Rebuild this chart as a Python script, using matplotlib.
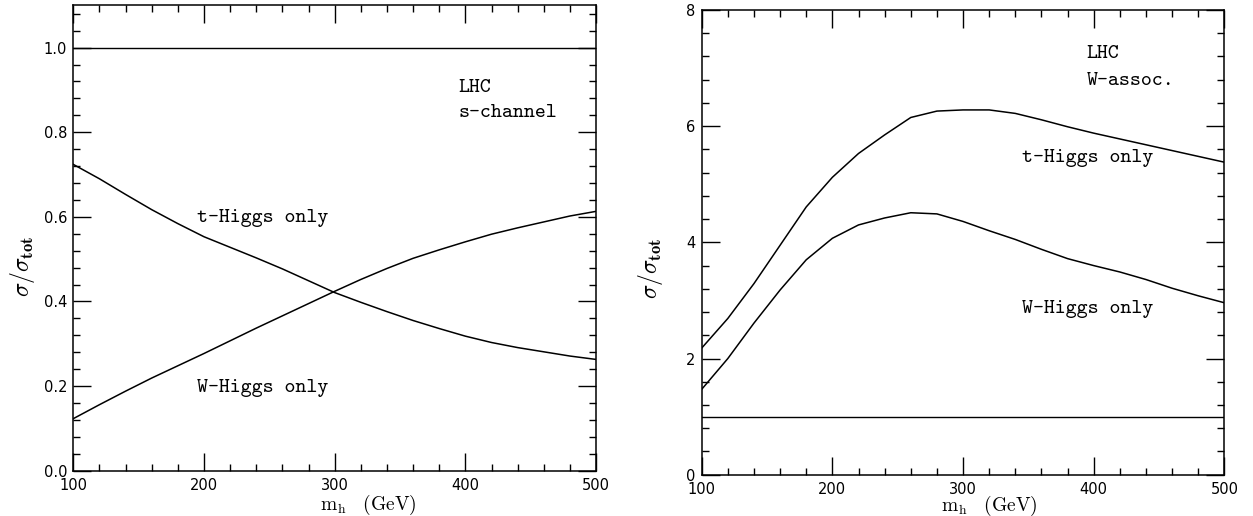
import os
import matplotlib
matplotlib.use("Agg")
import matplotlib.pyplot as plt
from matplotlib.font_manager import FontProperties
from matplotlib.ticker import MultipleLocator, FormatStrFormatter

# ---- data ----
mh = [100, 120, 140, 160, 180, 200, 220, 240, 260, 280, 300,
      320, 340, 360, 380, 400, 420, 440, 460, 480, 500]

# s-channel (left panel)
s_t_higgs = [0.724, 0.690, 0.653, 0.617, 0.584, 0.553, 0.528, 0.503, 0.477, 0.449, 0.421,
             0.398, 0.376, 0.355, 0.336, 0.318, 0.303, 0.291, 0.281, 0.271, 0.263]
s_w_higgs = [0.123, 0.156, 0.188, 0.219, 0.248, 0.277, 0.307, 0.337, 0.366, 0.395, 0.424,
             0.452, 0.478, 0.502, 0.522, 0.541, 0.559, 0.574, 0.588, 0.602, 0.613]

# W-associated (right panel)
w_t_higgs = [2.18, 2.69, 3.29, 3.95, 4.61, 5.12, 5.53, 5.85, 6.15, 6.26, 6.28,
             6.28, 6.22, 6.11, 5.99, 5.88, 5.78, 5.68, 5.58, 5.48, 5.38]
w_w_higgs = [1.47, 2.00, 2.61, 3.18, 3.70, 4.07, 4.30, 4.42, 4.51, 4.49, 4.36,
             4.20, 4.05, 3.88, 3.72, 3.60, 3.49, 3.36, 3.21, 3.08, 2.96]

ref_level = 1.0

# ---- fonts ----
plt.rcParams["mathtext.fontset"] = "cm"
tt_path = os.path.join(matplotlib.get_data_path(), "fonts", "ttf", "cmtt10.ttf")
if os.path.exists(tt_path):
    tt_font = FontProperties(fname=tt_path, size=15)
else:
    tt_font = FontProperties(family="DejaVu Sans Mono", size=13)

fig = plt.figure(figsize=(12.53, 5.16), dpi=100)
ax1 = fig.add_axes([0.0585, 0.0878, 0.4172, 0.9019])
ax2 = fig.add_axes([0.5600, 0.0800, 0.4172, 0.9006])


def style_axes(ax, xpad, ypad):
    ax.set_xlim(100, 500)
    ax.xaxis.set_major_locator(MultipleLocator(100))
    ax.xaxis.set_minor_locator(MultipleLocator(20))
    ax.tick_params(which="both", direction="in", top=True, right=True,
                   width=1.0, color="black")
    ax.tick_params(which="major", length=13, labelsize=10.5)
    ax.tick_params(which="minor", length=5)
    ax.tick_params(axis="x", which="major", pad=xpad)
    ax.tick_params(axis="y", which="major", pad=ypad)
    for sp in ax.spines.values():
        sp.set_linewidth(1.1)


# left panel: s-channel
ax1.plot(mh, s_t_higgs, color="black", lw=1.1)
ax1.plot(mh, s_w_higgs, color="black", lw=1.1)
ax1.axhline(ref_level, color="black", lw=1.0)
ax1.set_ylim(0, 1.1)
ax1.yaxis.set_major_locator(MultipleLocator(0.2))
ax1.yaxis.set_minor_locator(MultipleLocator(0.04))
ax1.yaxis.set_major_formatter(FormatStrFormatter("%.1f"))
style_axes(ax1, 5, 4.5)
ax1.text(394.9, 0.904, "LHC", fontproperties=tt_font, ha="left", va="center")
ax1.text(394.9, 0.845, "s-channel", fontproperties=tt_font, ha="left", va="center")
ax1.text(194.3, 0.597, "t-Higgs only", fontproperties=tt_font, ha="left", va="center")
ax1.text(194.3, 0.195, "W-Higgs only", fontproperties=tt_font, ha="left", va="center")
ax1.text(0.564, -0.0735, r"$\mathrm{m_h\quad (GeV)}$", transform=ax1.transAxes,
         fontsize=14, ha="center", va="center")
ax1.text(-0.097, 0.438, r"$\sigma/\sigma_{\mathbf{tot}}$", transform=ax1.transAxes,
         fontsize=17, rotation=90, ha="center", va="center")

# right panel: W-associated
ax2.plot(mh, w_t_higgs, color="black", lw=1.1)
ax2.plot(mh, w_w_higgs, color="black", lw=1.1)
ax2.axhline(ref_level, color="black", lw=1.0)
ax2.set_ylim(0, 8)
ax2.yaxis.set_major_locator(MultipleLocator(2))
ax2.yaxis.set_minor_locator(MultipleLocator(0.4))
style_axes(ax2, 5, 4.5)
ax2.text(394.6, 7.25, "LHC", fontproperties=tt_font, ha="left", va="center")
ax2.text(394.6, 6.78, "W-assoc.", fontproperties=tt_font, ha="left", va="center")
ax2.text(345, 5.46, "t-Higgs only", fontproperties=tt_font, ha="left", va="center")
ax2.text(345, 2.86, "W-Higgs only", fontproperties=tt_font, ha="left", va="center")
ax2.text(0.551, -0.068, r"$\mathrm{m_h\quad (GeV)}$", transform=ax2.transAxes,
         fontsize=14, ha="center", va="center")
ax2.text(-0.097, 0.443, r"$\sigma/\sigma_{\mathbf{tot}}$", transform=ax2.transAxes,
         fontsize=17, rotation=90, ha="center", va="center")

fig.savefig("out.png", dpi=100)
